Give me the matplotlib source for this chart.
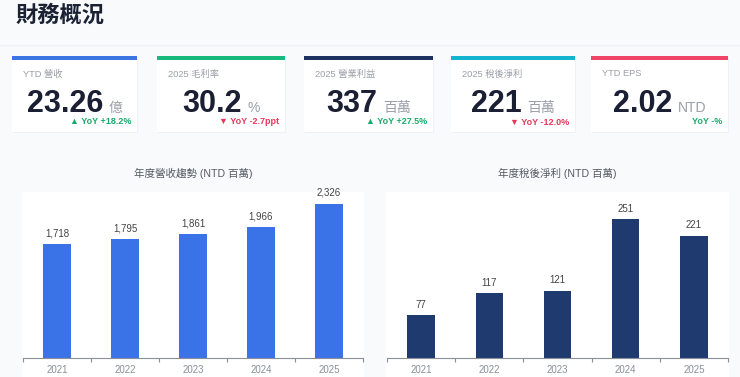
import matplotlib
matplotlib.use("Agg")
import matplotlib.pyplot as plt
from matplotlib.patches import Rectangle

plt.rcParams['font.family'] = ['Liberation Sans', 'Noto Sans CJK TC', 'DejaVu Sans']

# ---- data ----
years = ["2021", "2022", "2023", "2024", "2025"]
revenue = [1718, 1795, 1861, 1966, 2326]
net_income = [77, 117, 121, 251, 221]

card_labels = ["YTD 營收", "2025 毛利率", "2025 營業利益", "2025 稅後淨利", "YTD EPS"]
card_values = ["23.26", "30.2", "337", "221", "2.02"]
card_units = ["億", "%", "百萬", "百萬", "NTD"]
card_yoy = ["▲ YoY +18.2%", "▼ YoY -2.7ppt", "▲ YoY +27.5%", "▼ YoY -12.0%", "YoY -%"]
card_yoy_up = [True, False, True, False, True]
card_colors = ["#3b74e3", "#17b97c", "#1f3160", "#13b4d0", "#ee4466"]

W, H = 740, 377
fig = plt.figure(figsize=(W / 100, H / 100), dpi=100)
fig.patch.set_facecolor("#f8fafc")

bg = fig.add_axes([0, 0, 1, 1])
bg.set_xlim(0, W)
bg.set_ylim(H, 0)
bg.axis("off")

# title
bg.text(16, 16, "財務概況", fontsize=16, fontweight="bold", color="#1b2234",
        va="center", ha="left")
bg.plot([0, W], [45, 45], color="#eef1f5", lw=1)

# cards
cards_x = [(12, 137), (157, 285), (304, 433), (451, 575), (591, 728)]
green = "#1aab6b"
red = "#e8385a"
fig.canvas.draw()
renderer = fig.canvas.get_renderer()
for i, (x0, x1) in enumerate(cards_x):
    bg.add_patch(Rectangle((x0 + 0.5, 57), x1 - x0, 76, facecolor="#eef1f5", edgecolor="none", zorder=0.5))
    bg.add_patch(Rectangle((x0, 56), x1 - x0, 76, facecolor="white", edgecolor="none", zorder=1))
    bg.add_patch(Rectangle((x0, 56), x1 - x0, 4, facecolor=card_colors[i], edgecolor="none", zorder=2))
    bg.text(x0 + 11, 74, card_labels[i], fontsize=6.7, color="#9a9ea6", va="center", ha="left", zorder=3)
    tv = bg.text(0, 112, card_values[i], fontsize=22, fontweight="bold", color="#1b1f33",
                 va="baseline", ha="left", zorder=3)
    tu = bg.text(0, 112, card_units[i], fontsize=10, color="#9a9ea6", va="baseline", ha="left", zorder=3)
    wv = tv.get_window_extent(renderer).width
    wu = tu.get_window_extent(renderer).width
    gap = 5
    total = wv + gap + wu
    cx = (x0 + x1) / 2
    start = cx - total / 2
    tv.set_x(start)
    tu.set_x(start + wv + gap)
    bg.text(x1 - 6, 122, card_yoy[i], fontsize=6.5, fontweight="bold",
            color=green if card_yoy_up[i] else red, va="center", ha="right", zorder=3)

# chart panels
panels = [(22, 364), (386, 729)]
for (x0, x1) in panels:
    bg.add_patch(Rectangle((x0, 192), x1 - x0, H - 192, facecolor="white", edgecolor="none", zorder=1))


def make_chart(x0, x1, values, ymax, color, title):
    top, base = 192, 358
    ax = fig.add_axes([x0 / W, 1 - base / H, (x1 - x0) / W, (base - top) / H])
    ax.set_facecolor("white")
    xs = list(range(len(years)))
    ax.bar(xs, values, width=0.4, color=color, zorder=2)
    for x, v in zip(xs, values):
        ax.annotate(f"{v:,}", (x, v), xytext=(0, 4), textcoords="offset points",
                    ha="center", va="bottom", fontsize=7, color="#444444")
    ax.set_xlim(-0.5, len(years) - 0.5)
    ax.set_ylim(0, ymax)
    ax.set_yticks([])
    for s in ["top", "right", "left"]:
        ax.spines[s].set_visible(False)
    ax.spines["bottom"].set_color("#8a8f99")
    ax.spines["bottom"].set_linewidth(0.8)
    ax.set_xticks([i - 0.5 for i in range(len(years) + 1)])
    ax.set_xticklabels([])
    ax.tick_params(axis="x", which="major", length=3, color="#8a8f99", width=0.8)
    ax.set_xticks(xs, minor=True)
    ax.set_xticklabels(years, minor=True)
    ax.tick_params(axis="x", which="minor", length=0, pad=5, labelsize=7, labelcolor="#8a8f99")
    cx = (x0 + x1) / 2
    bg.text(cx, 173, title, fontsize=7.6, color="#555a63", ha="center", va="center")
    return ax


make_chart(23, 363, revenue, 2500, "#3a73e8", "年度營收趨勢 (NTD 百萬)")
make_chart(387, 728, net_income, 300, "#1e3a6e", "年度稅後淨利 (NTD 百萬)")

fig.savefig("out.png", dpi=100, facecolor=fig.get_facecolor())
